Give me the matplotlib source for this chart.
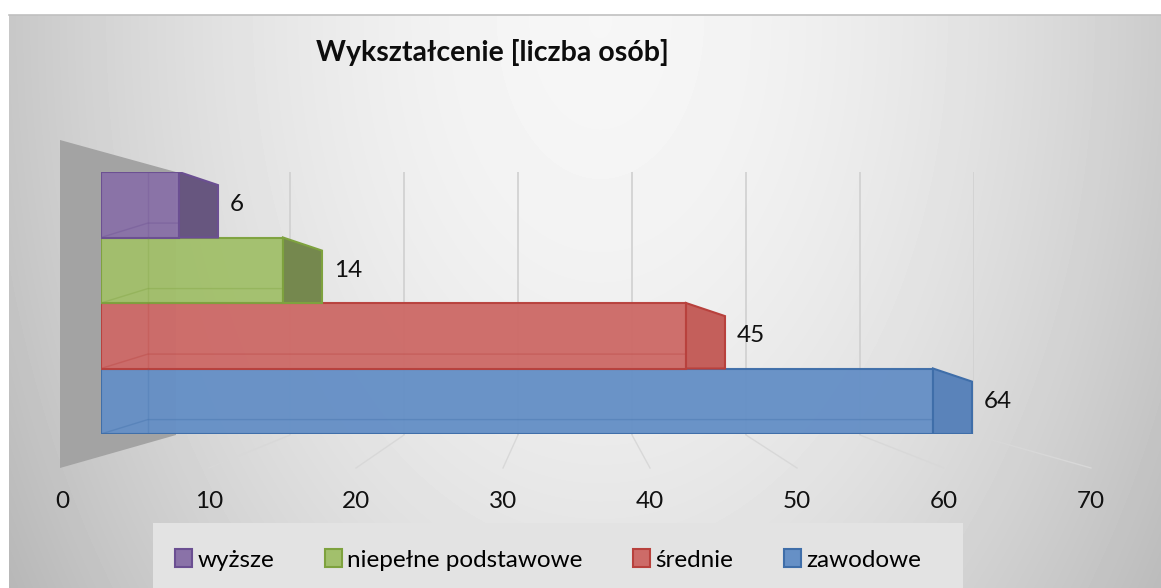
import numpy as np
import matplotlib.pyplot as plt
from matplotlib.patches import Polygon, Rectangle, Patch
from matplotlib.lines import Line2D

plt.rcParams['font.family'] = ['Lato', 'DejaVu Sans']

# data (bottom to top, as Excel draws them)
categories = ['zawodowe', 'średnie', 'niepełne podstawowe', 'wyższe']
values = [64, 45, 14, 6]
face_colors = ['#6690c6', '#cd6b68', '#a2c06c', '#8a72a8']
cap_colors = ['#5a83ba', '#c45f5b', '#75884e', '#67567f']
edge_colors = ['#3f6ea9', '#b8413d', '#7ea23e', '#6b4f92']
ticks = [0, 10, 20, 30, 40, 50, 60, 70]
title = 'Wykształcenie [liczba osób]'

W, H = 1161, 588
fig = plt.figure(figsize=(W / 100, H / 100), dpi=100)


def box(x0, y0, x1, y1):
    # pixel box (top-left origin) -> figure fraction rect
    return [x0 / W, 1 - y1 / H, (x1 - x0) / W, (y1 - y0) / H]


# background with soft radial gradient
bg = fig.add_axes([0, 0, 1, 1])
bg.set_xlim(0, W)
bg.set_ylim(H, 0)
bg.axis('off')
yy, xx = np.mgrid[15:H, 9:W]
d = np.sqrt(((xx - 600) / 620.0) ** 2 + ((yy - 20) / 950.0) ** 2)
shade = np.clip(0.965 - 0.2 * d ** 1.8, 0, 1)
bg.imshow(shade, cmap='gray', vmin=0, vmax=1, extent=(9, W, H, 15),
          aspect='auto', interpolation='bilinear')
bg.plot([9, W], [15, 15], color='#c0c0c0', lw=1.2)

# left side wall
bg.add_patch(Polygon([(60, 140), (176, 172), (176, 435), (60, 468)],
                     closed=True, facecolor='#a3a3a3', edgecolor='none', zorder=2))

# back wall grid
wall = fig.add_axes(box(176, 172, 974, 435))
wall.set_xlim(0, 70)
wall.set_ylim(0, 1)
wall.axis('off')
for t in ticks[1:]:
    wall.plot([t, t], [0, 1], color='#d2d2d2', lw=1.3)

# tick label axis at front of floor
tax = fig.add_axes(box(62, 468, 1091, 469))
tax.set_xlim(0, 70)
tax.set_xticks(ticks)
tax.set_xticklabels([str(t) for t in ticks], fontsize=17.5, color='#111111')
tax.tick_params(axis='x', length=0, pad=16)
tax.set_yticks([])
for s in tax.spines.values():
    s.set_visible(False)
tax.patch.set_visible(False)

# floor lines joining wall and front
for t in ticks[1:]:
    p0 = wall.transData.transform((t, 0))
    p1 = tax.transData.transform((t, 1))
    fig.add_artist(Line2D([p0[0] / W, p1[0] / W], [p0[1] / H, p1[1] / H],
                          color='#d8d8d8', lw=1.0, transform=fig.transFigure))

# bars
ax = fig.add_axes(box(101, 172, 1011, 434))
ax.set_xlim(0, 70)
ax.set_ylim(-0.5, 3.5)
ax.axis('off')

dx = 3.0   # depth offset in value units
dy = 0.2   # depth offset in bar units
ypos = np.arange(len(values))
ax.barh(ypos, values, height=1.0, color=face_colors, edgecolor=edge_colors,
        linewidth=1.5, alpha=0.97, zorder=3)
for i, v in enumerate(values):
    cap = Polygon([(v, i + 0.5), (v + dx, i + 0.5 - dy), (v + dx, i - 0.5), (v, i - 0.5)],
                  closed=True, facecolor=cap_colors[i], edgecolor=edge_colors[i],
                  linewidth=1.5, zorder=3)
    ax.add_patch(cap)
    # faint back edges seen through the bar
    ax.plot([dx + 0.6, dx + 0.6], [i + 0.5, i - 0.5], color=edge_colors[i],
            lw=1, alpha=0.25, zorder=4)
    ax.plot([0, dx + 0.6, v], [i - 0.5, i - 0.28, i - 0.28], color=edge_colors[i],
            lw=1, alpha=0.35, zorder=4)
    ax.text(v + dx + 0.9, i, str(v), fontsize=17.5, va='center', ha='left',
            color='#111111', zorder=5)

# title
fig.text(492 / W, 1 - 53 / H, title, fontsize=20.5, fontweight='bold',
         ha='center', va='center', color='#0d0d0d')

# legend
bg.add_patch(Rectangle((153, 523), 963 - 153, H - 523, facecolor='#e3e3e3',
                       edgecolor='none', zorder=2))
order = [3, 2, 1, 0]
handles = [Patch(facecolor=face_colors[k], edgecolor=edge_colors[k], linewidth=1.5)
           for k in order]
labels = [categories[k] for k in order]
fig.legend(handles, labels, loc='center', bbox_to_anchor=(548 / W, 1 - 560 / H),
           ncol=4, frameon=False, fontsize=17.5, handlelength=0.7, handleheight=0.7,
           handletextpad=0.2, columnspacing=2.1)

fig.savefig('out.png', dpi=100)
